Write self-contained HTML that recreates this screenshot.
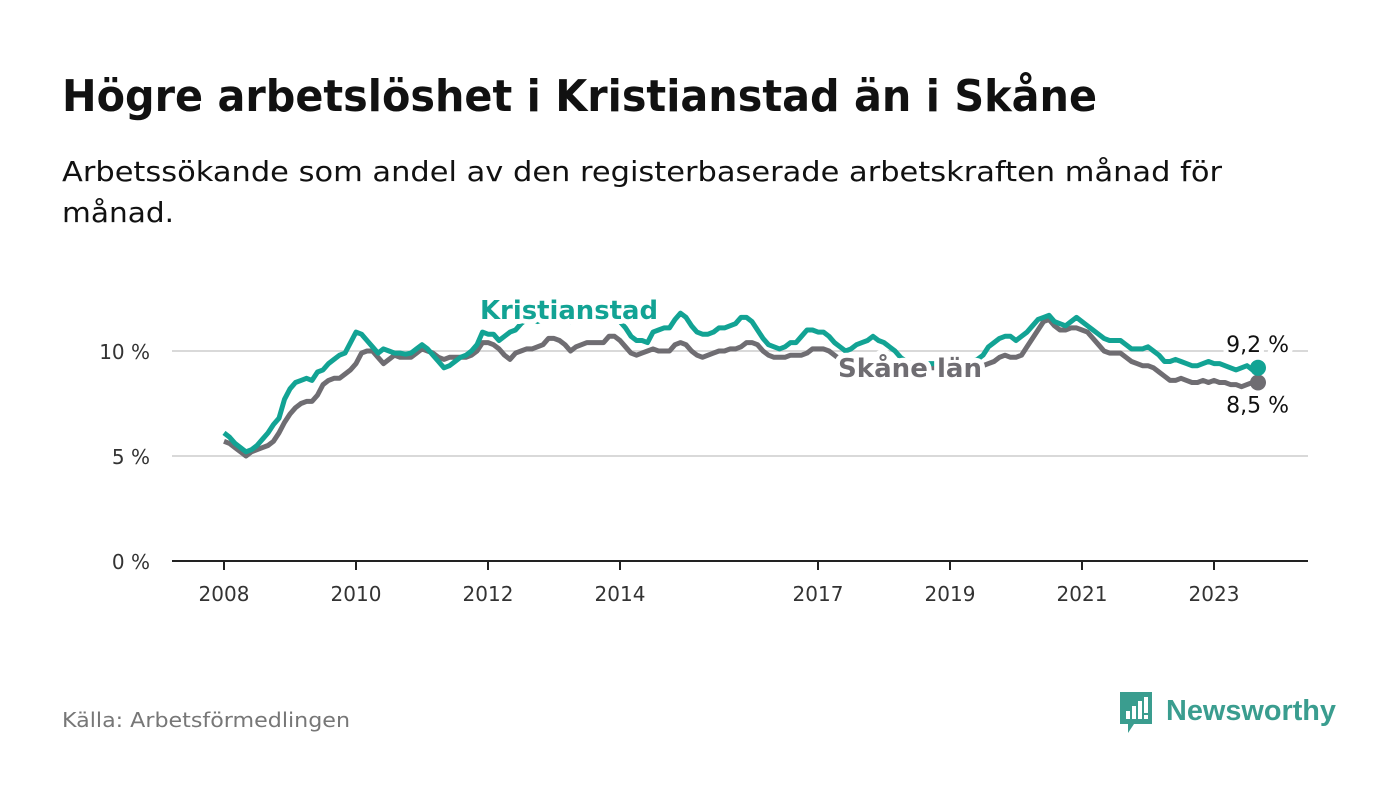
<!DOCTYPE html>
<html><head><meta charset="utf-8">
<style>
body{margin:0;background:#fff;width:1400px;height:794px;overflow:hidden;font-family:"DejaVu Sans","Liberation Sans",sans-serif;}
</style></head>
<body>
<svg width="1400" height="794" viewBox="0 0 1400 794" xmlns="http://www.w3.org/2000/svg" id="chart" font-family="DejaVu Sans, Liberation Sans, sans-serif">
<text x="62" y="111" font-size="44" font-weight="bold" fill="#111" textLength="1035" lengthAdjust="spacingAndGlyphs">Högre arbetslöshet i Kristianstad än i Skåne</text>
<text x="62" y="181" font-size="28" fill="#111" textLength="1160" lengthAdjust="spacingAndGlyphs">Arbetssökande som andel av den registerbaserade arbetskraften månad för</text>
<text x="62" y="222" font-size="28" fill="#111" textLength="112" lengthAdjust="spacingAndGlyphs">månad.</text>
<g id="grid"></g>
<g id="yticks"></g>
<g id="xticks"></g>
<g id="series"></g>
<text x="62" y="727" font-size="20" fill="#777" textLength="288" lengthAdjust="spacingAndGlyphs">Källa: Arbetsförmedlingen</text>
<g>
<path d="M1120 692 h32 v32 h-18 l-6 9 v-9 h-8 z" fill="#3a9d8f"/>
<rect x="1126" y="711" width="4" height="8" fill="#fff"/><rect x="1132" y="706" width="4" height="13" fill="#fff"/><rect x="1138" y="701" width="4" height="18" fill="#fff"/><rect x="1144" y="697" width="4" height="16" fill="#fff"/><rect x="1144" y="715" width="4" height="4" fill="#fff"/>
<text x="1166" y="720" font-size="29" font-weight="bold" fill="#3a9d8f" font-family="Liberation Sans, sans-serif" textLength="170" lengthAdjust="spacingAndGlyphs">Newsworthy</text>
</g>
</svg>
<script>
const yTicks=[0,5,10];
const yTickLabels=["0 %","5 %","10 %"];
const xYears=[2008,2010,2012,2014,2017,2019,2021,2023];
const startYear=2008;
const kristianstad=[6.1,5.9,5.6,5.4,5.2,5.3,5.5,5.8,6.1,6.5,6.8,7.7,
8.2,8.5,8.6,8.7,8.6,9.0,9.1,9.4,9.6,9.8,9.9,10.4,
10.9,10.8,10.5,10.2,9.9,10.1,10.0,9.9,9.9,9.85,9.9,10.1,
10.3,10.1,9.8,9.5,9.2,9.3,9.5,9.7,9.8,10.0,10.3,10.9,
10.8,10.8,10.5,10.7,10.9,11.0,11.3,11.5,11.5,11.4,11.5,11.6,
11.6,11.5,11.5,11.4,11.5,11.6,11.6,11.5,11.5,11.5,11.6,11.5,
11.4,11.1,10.7,10.5,10.5,10.4,10.9,11.0,11.1,11.1,11.5,11.8,
11.6,11.2,10.9,10.8,10.8,10.9,11.1,11.1,11.2,11.3,11.6,11.6,
11.4,11.0,10.6,10.3,10.2,10.1,10.2,10.4,10.4,10.7,11.0,11.0,
10.9,10.9,10.7,10.4,10.2,10.0,10.1,10.3,10.4,10.5,10.7,10.5,
10.4,10.2,10.0,9.7,9.5,9.4,9.4,9.4,9.4,9.4,9.4,9.4,
9.4,9.4,9.5,9.5,9.5,9.6,9.8,10.2,10.4,10.6,10.7,10.7,
10.5,10.7,10.9,11.2,11.5,11.6,11.7,11.4,11.3,11.2,11.4,11.6,
11.4,11.2,11.0,10.8,10.6,10.5,10.5,10.5,10.3,10.1,10.1,10.1,
10.2,10.0,9.8,9.5,9.5,9.6,9.5,9.4,9.3,9.3,9.4,9.5,
9.4,9.4,9.3,9.2,9.1,9.2,9.3,9.1,9.2];
const skane=[5.7,5.6,5.4,5.2,5.0,5.2,5.3,5.4,5.5,5.7,6.1,6.6,
7.0,7.3,7.5,7.6,7.6,7.9,8.4,8.6,8.7,8.7,8.9,9.1,
9.4,9.9,10.0,10.0,9.7,9.4,9.6,9.8,9.7,9.7,9.7,9.9,
10.1,10.0,9.9,9.7,9.6,9.7,9.7,9.7,9.7,9.8,10.0,10.4,
10.4,10.3,10.1,9.8,9.6,9.9,10.0,10.1,10.1,10.2,10.3,10.6,
10.6,10.5,10.3,10.0,10.2,10.3,10.4,10.4,10.4,10.4,10.7,10.7,
10.5,10.2,9.9,9.8,9.9,10.0,10.1,10.0,10.0,10.0,10.3,10.4,
10.3,10.0,9.8,9.7,9.8,9.9,10.0,10.0,10.1,10.1,10.2,10.4,
10.4,10.3,10.0,9.8,9.7,9.7,9.7,9.8,9.8,9.8,9.9,10.1,
10.1,10.1,10.0,9.8,9.6,9.5,9.4,9.4,9.4,9.4,9.4,9.4,
9.4,9.3,9.3,9.3,9.4,9.4,9.3,9.3,9.2,9.2,9.3,9.3,
9.3,9.2,9.2,9.3,9.3,9.3,9.3,9.4,9.5,9.7,9.8,9.7,
9.7,9.8,10.2,10.6,11.0,11.4,11.5,11.2,11.0,11.0,11.1,11.1,
11.0,10.9,10.6,10.3,10.0,9.9,9.9,9.9,9.7,9.5,9.4,9.3,
9.3,9.2,9.0,8.8,8.6,8.6,8.7,8.6,8.5,8.5,8.6,8.5,
8.6,8.5,8.5,8.4,8.4,8.3,8.4,8.5,8.5];

const NS="http://www.w3.org/2000/svg";
const X0=224,PXM=5.5,Y0=561,PXU=21;
function xm(i){return X0+i*PXM;}
function xYear(yr){return X0+(yr-startYear)*12*PXM;}
function yv(v){return Y0-v*PXU;}
function mk(tag,attrs,parent){const e=document.createElementNS(NS,tag);for(const k in attrs)e.setAttribute(k,attrs[k]);parent.appendChild(e);return e;}
function fmt(v){return v.toFixed(1).replace('.',',')+' %';}

const grid=document.getElementById('grid'),yt=document.getElementById('yticks'),xt=document.getElementById('xticks'),ser=document.getElementById('series');
yTicks.forEach((t,i)=>{
  if(t>0){const g=mk('line',{x1:172,x2:1308,y1:yv(t),y2:yv(t),stroke:'#d9d9d9','stroke-width':2},grid);
  
  }
  const l=mk('text',{x:150,y:yv(t)+8,'font-size':20,fill:'#333','text-anchor':'end'},yt);
  l.textContent=yTickLabels[i];
  
  
});
const ax=mk('line',{x1:172,x2:1308,y1:Y0,y2:Y0,stroke:'#222','stroke-width':2},xt);


xYears.forEach(yr=>{
  const x=xYear(yr);
  const t=mk('line',{x1:x,x2:x,y1:Y0,y2:Y0+9,stroke:'#222','stroke-width':2},xt);
  
  
  const l=mk('text',{x:x,y:601,'font-size':20,fill:'#333','text-anchor':'middle'},xt);
  l.textContent=yr;
  
  
});
function line(data,color,name){
  const p=mk('polyline',{points:data.map((v,i)=>xm(i)+','+yv(v)).join(' '),fill:'none',stroke:color,'stroke-width':5,'stroke-linejoin':'round'},ser);
  
  
  const n=data.length-1;
  const c=mk('circle',{cx:xm(n),cy:yv(data[n]),r:8,fill:color},ser);
  
  
}
line(skane,'#6f6d72','skane-line');
line(kristianstad,'#12a394','kristianstad-line');
function lab(txt,x,y,color,anchor,bold,name,len){
  const a={x:x,y:y,'font-size':bold?26:22,fill:color,'text-anchor':anchor,stroke:'#fff','stroke-width':10,'paint-order':'stroke','stroke-linejoin':'round'};
  if(bold)a['font-weight']='bold';
  if(len){a.textLength=len;a.lengthAdjust='spacingAndGlyphs';}
  const t=mk('text',a,ser);t.textContent=txt;
  
  
}
lab('Kristianstad',480,319,'#12a394','start',true,'kristianstad-label',178);
lab('Skåne län',838,377,'#6f6d72','start',true,'skane-label',144);
const n=kristianstad.length-1;
lab(fmt(kristianstad[n]),1289,yv(kristianstad[n])-16,'#111','end',false,'kristianstad-value-label');
lab(fmt(skane[n]),1289,yv(skane[n])+30,'#111','end',false,'skane-value-label');
</script>
</body></html>
